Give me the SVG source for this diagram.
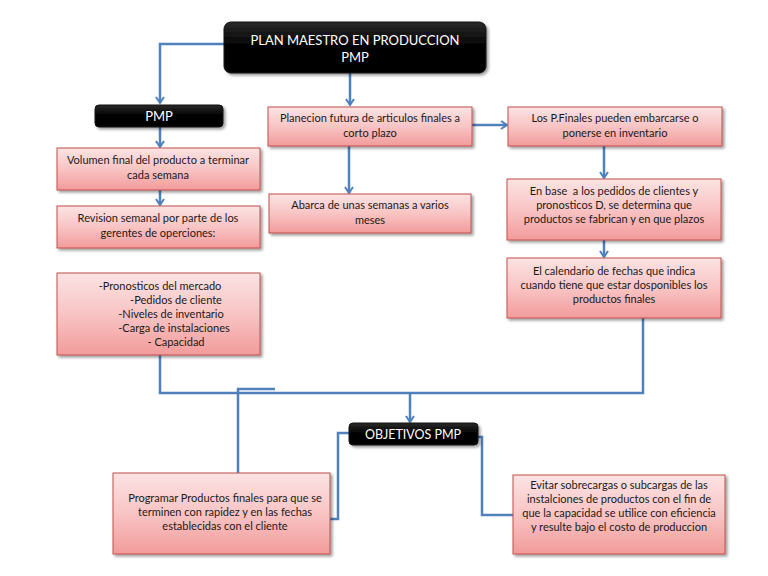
<svg xmlns="http://www.w3.org/2000/svg" width="768" height="576" viewBox="0 0 768 576">
<defs>
<linearGradient id="pink" x1="0" y1="0" x2="0" y2="1">
<stop offset="0" stop-color="#fbe3e3"/>
<stop offset="0.5" stop-color="#f9c4c4"/>
<stop offset="1" stop-color="#f29b9b"/>
</linearGradient>
<linearGradient id="dark" x1="0" y1="0" x2="0" y2="1">
<stop offset="0" stop-color="#2a2a2a"/>
<stop offset="0.5" stop-color="#000"/>
<stop offset="1" stop-color="#050505"/>
</linearGradient>
<filter id="sh" x="-10%" y="-10%" width="125%" height="140%">
<feGaussianBlur in="SourceAlpha" stdDeviation="1.5"/>
<feOffset dx="1.5" dy="2" result="b"/>
<feComponentTransfer><feFuncA type="linear" slope="0.4"/></feComponentTransfer>
<feMerge><feMergeNode/><feMergeNode in="SourceGraphic"/></feMerge>
</filter>
<marker id="arr" markerWidth="10" markerHeight="10" refX="7" refY="5" orient="auto" markerUnits="userSpaceOnUse">
<polyline points="1,1 7,5 1,9" fill="none" stroke="#4f81bd" stroke-width="2"/>
</marker>
</defs>
<style>
.box{fill:url(#pink);stroke:#c0504d;stroke-width:1;filter:url(#sh)}
.blk{fill:url(#dark);stroke:#111;stroke-width:1;filter:url(#sh)}
.t{font-family:Lato,"Liberation Sans",sans-serif;font-size:11px;fill:#1a1a1a;text-anchor:middle;white-space:pre}
.w{font-family:Lato,"Liberation Sans",sans-serif;fill:#fff;text-anchor:middle}
.c{fill:none;stroke:#4f81bd;stroke-width:2.5}
.a{marker-end:url(#arr)}
</style>
<rect width="768" height="576" fill="#fff"/>
<g id="connectors">
<polyline class="c a" points="224,44 160,44 160,103"/>
<line class="c a" x1="350" y1="73" x2="350" y2="105"/>
<line class="c a" x1="472" y1="125" x2="507" y2="125"/>
<line class="c a" x1="160" y1="127" x2="160" y2="147"/>
<line class="c a" x1="160" y1="190" x2="160" y2="205"/>
<line class="c a" x1="349" y1="146" x2="349" y2="193"/>
<line class="c a" x1="604" y1="146" x2="604" y2="178"/>
<line class="c a" x1="604" y1="240" x2="604" y2="257"/>
<polyline class="c" points="160,355 160,393 643,393 643,318"/>
<line class="c a" x1="410" y1="393" x2="410" y2="422"/>
<polyline class="c" points="238,473 238,389 275,389"/>
<polyline class="c" points="350,433 338,433 338,519 330,519"/>
<polyline class="c" points="478,437 482,437 482,515 513,515"/>
</g>
<g id="n-plan">
<rect class="blk" x="224" y="22" width="262" height="51" rx="7"/>
<text class="w" x="355" y="45" font-size="13">PLAN MAESTRO EN PRODUCCION</text>
<text class="w" x="355" y="62" font-size="13">PMP</text>
</g>
<g id="n-pmp">
<rect class="blk" x="95" y="105" width="128" height="22" rx="4"/>
<text class="w" x="159" y="121" font-size="13">PMP</text>
</g>
<g id="n-planecion">
<rect class="box" x="268" y="107" width="204" height="39"/>
<text class="t" x="370" y="122">Planecion futura de articulos finales a</text>
<text class="t" x="370" y="137">corto plazo</text>
</g>
<g id="n-losp">
<rect class="box" x="508" y="107" width="214" height="39"/>
<text class="t" x="615" y="122">Los P.Finales pueden embarcarse o</text>
<text class="t" x="615" y="137">ponerse en inventario</text>
</g>
<g id="n-volumen">
<rect class="box" x="57" y="148" width="203" height="42"/>
<text class="t" x="158" y="164">Volumen final del producto a terminar</text>
<text class="t" x="158" y="179">cada semana</text>
</g>
<g id="n-revision">
<rect class="box" x="57" y="206" width="203" height="42"/>
<text class="t" x="158" y="222">Revision semanal por parte de los</text>
<text class="t" x="158" y="237">gerentes de operciones:</text>
</g>
<g id="n-abarca">
<rect class="box" x="269" y="194" width="202" height="39"/>
<text class="t" x="370" y="209">Abarca de unas semanas a varios</text>
<text class="t" x="370" y="224">meses</text>
</g>
<g id="n-enbase">
<rect class="box" x="507" y="179" width="214" height="61"/>
<text class="t" x="614" y="195" xml:space="preserve">En base  a los pedidos de clientes y</text>
<text class="t" x="614" y="209">pronosticos D, se determina que</text>
<text class="t" x="614" y="223">productos se fabrican y en que plazos</text>
</g>
<g id="n-calendario">
<rect class="box" x="507" y="258" width="214" height="60"/>
<text class="t" x="614" y="275">El calendario de fechas que indica</text>
<text class="t" x="614" y="289">cuando tiene que estar dosponibles los</text>
<text class="t" x="614" y="303">productos finales</text>
</g>
<g id="n-pronosticos">
<rect class="box" x="57" y="273" width="203" height="82"/>
<text class="t" x="160" y="290">-Pronosticos del mercado</text>
<text class="t" x="176" y="304">-Pedidos de cliente</text>
<text class="t" x="171" y="318">-Niveles de inventario</text>
<text class="t" x="174" y="332">-Carga de instalaciones</text>
<text class="t" x="176" y="346">- Capacidad</text>
</g>
<g id="n-objetivos">
<rect class="blk" x="349" y="423" width="129" height="22" rx="4"/>
<text class="w" x="413" y="439" font-size="12.5">OBJETIVOS PMP</text>
</g>
<g id="n-programar">
<rect class="box" x="113" y="473" width="217" height="81"/>
<text class="t" x="225" y="502">Programar Productos finales para que se</text>
<text class="t" x="225" y="516">terminen con rapidez y en las fechas</text>
<text class="t" x="225" y="530">establecidas con el cliente</text>
</g>
<g id="n-evitar">
<rect class="box" x="513" y="475" width="212" height="79"/>
<text class="t" x="619" y="489">Evitar sobrecargas o subcargas de las</text>
<text class="t" x="619" y="503">instalciones de productos con el fin de</text>
<text class="t" x="619" y="517">que la capacidad se utilice con eficiencia</text>
<text class="t" x="619" y="531">y resulte bajo el costo de produccion</text>
</g>
</svg>
